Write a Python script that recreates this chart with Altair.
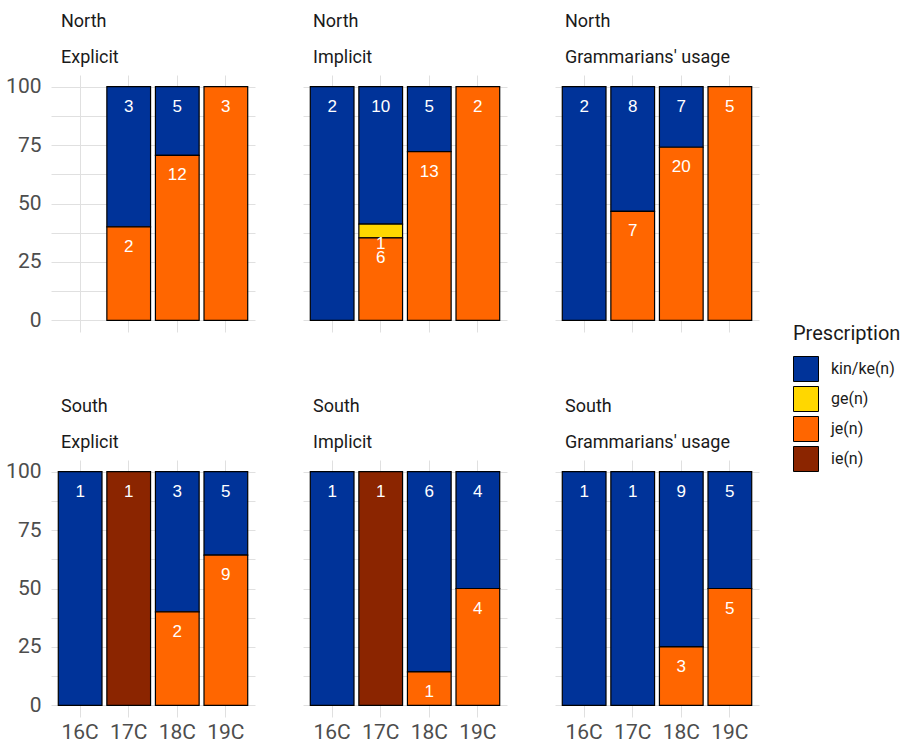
import altair as alt
import pandas as pd

regions = ["North", "South"]
types = ["Explicit", "Implicit", "Grammarians' usage"]
centuries = ["16C", "17C", "18C", "19C"]
prescriptions = ["kin/ke(n)", "ge(n)", "je(n)", "ie(n)"]
colors = ["#003399", "#FFD700", "#FF6600", "#8B2500"]
stack_rank = [3, 2, 1, 0]  # kin on top, ie at bottom

# counts per panel (N-Explicit, N-Implicit, N-Gramm., S-Explicit, S-Implicit, S-Gramm.), 4 centuries each
kin = [0, 3, 5, 0,  2, 10, 5, 0,  2, 8, 7, 0,  1, 0, 3, 5,  1, 0, 6, 4,  1, 1, 9, 5]
ge  = [0, 0, 0, 0,  0, 1, 0, 0,   0, 0, 0, 0,  0, 0, 0, 0,  0, 0, 0, 0,  0, 0, 0, 0]
je  = [0, 2, 12, 3, 0, 6, 13, 2,  0, 7, 20, 5, 0, 0, 2, 9,  0, 0, 1, 4,  0, 0, 3, 5]
ie  = [0, 0, 0, 0,  0, 0, 0, 0,   0, 0, 0, 0,  0, 1, 0, 0,  0, 1, 0, 0,  0, 0, 0, 0]

rows = []
for p_i, (pres, vals) in enumerate(zip(prescriptions, [kin, ge, je, ie])):
    k = 0
    for r in regions:
        for t in types:
            for c in centuries:
                v = vals[k]
                k += 1
                if v > 0:
                    rows.append({"region": r, "type": t, "century": c,
                                 "prescription": pres, "n": v, "ord": stack_rank[p_i]})
df = pd.DataFrame(rows)
df["total"] = df.groupby(["region", "type", "century"])["n"].transform("sum")
df["pct"] = 100 * df["n"] / df["total"]

FONT = "Roboto"
GRID = "#e0e0e0"


def panel(ri, ti):
    r, t = regions[ri], types[ti]
    sub = df[(df.region == r) & (df.type == t)]
    base = alt.Chart(sub)
    show_x = ri == 1
    show_y = ti == 0
    xaxis = alt.Axis(title=None, grid=True, gridColor=GRID, domain=False, ticks=False,
                     tickSize=0, labels=show_x, labelFont=FONT, labelFontSize=21,
                     labelColor="#4d4d4d", labelPadding=4 if show_x else 0, labelAngle=0,
                     minExtent=0)
    yaxis = alt.Axis(title=None, grid=True, gridColor=GRID, domain=False, ticks=False,
                     tickSize=0, labels=show_y, labelFont=FONT, labelFontSize=21,
                     labelColor="#4d4d4d", labelPadding=10 if show_y else 0,
                     minExtent=0,
                     values=[0, 12.5, 25, 37.5, 50, 62.5, 75, 87.5, 100],
                     labelExpr="datum.value % 25 == 0 ? datum.value : ''")
    xscale = alt.Scale(domain=centuries, paddingInner=0.1, paddingOuter=0.15)
    yscale = alt.Scale(domain=[-5, 105], nice=False, zero=False)
    bars = base.mark_bar(stroke="black", strokeWidth=1.2).encode(
        x=alt.X("century:N", scale=xscale, axis=xaxis),
        y=alt.Y("pct:Q", stack="zero", scale=yscale, axis=yaxis),
        color=alt.Color("prescription:N",
                        scale=alt.Scale(domain=prescriptions, range=colors),
                        legend=alt.Legend(title="Prescription")),
        order=alt.Order("ord:Q", sort="ascending"),
    )
    text = base.transform_stack(
        stack="pct", groupby=["century"], sort=[alt.SortField("ord", order="ascending")],
        as_=["y0", "y1"]
    ).mark_text(font="Liberation Sans", fontSize=17, color="white", baseline="middle", dy=20).encode(
        x=alt.X("century:N", scale=xscale, axis=xaxis),
        y=alt.Y("y1:Q", scale=yscale, axis=yaxis),
        text="n:Q",
    )
    return alt.layer(bars, text).properties(
        width=204, height=257,
        title=alt.TitleParams(r, subtitle=t, anchor="start", frame="group",
                              font=FONT, fontSize=18, fontWeight="normal", color="#1a1a1a",
                              subtitleFont=FONT, subtitleFontSize=18, subtitleColor="#1a1a1a",
                              subtitlePadding=18, dx=10, offset=8),
    )


chart = alt.vconcat(
    *[alt.hconcat(*[panel(ri, ti) for ti in range(3)], spacing=46) for ri in range(2)],
    spacing=64,
).resolve_scale(color="shared").configure_view(stroke="transparent").configure_legend(
    orient="none", legendX=742, legendY=249,
    titleFont=FONT, titleFontSize=20, titleFontWeight="normal", titleColor="#1a1a1a",
    titlePadding=12,
    labelFont=FONT, labelFontSize=16, labelColor="#1a1a1a", labelOffset=12,
    symbolType="square", symbolSize=625, symbolStrokeColor="black", symbolStrokeWidth=1,
    symbolOpacity=1, rowPadding=0, padding=0,
).properties(padding={"left": 5, "top": 12, "right": 5, "bottom": 0})

chart.save("out.html", embed_options={"renderer": "svg", "actions": False})
